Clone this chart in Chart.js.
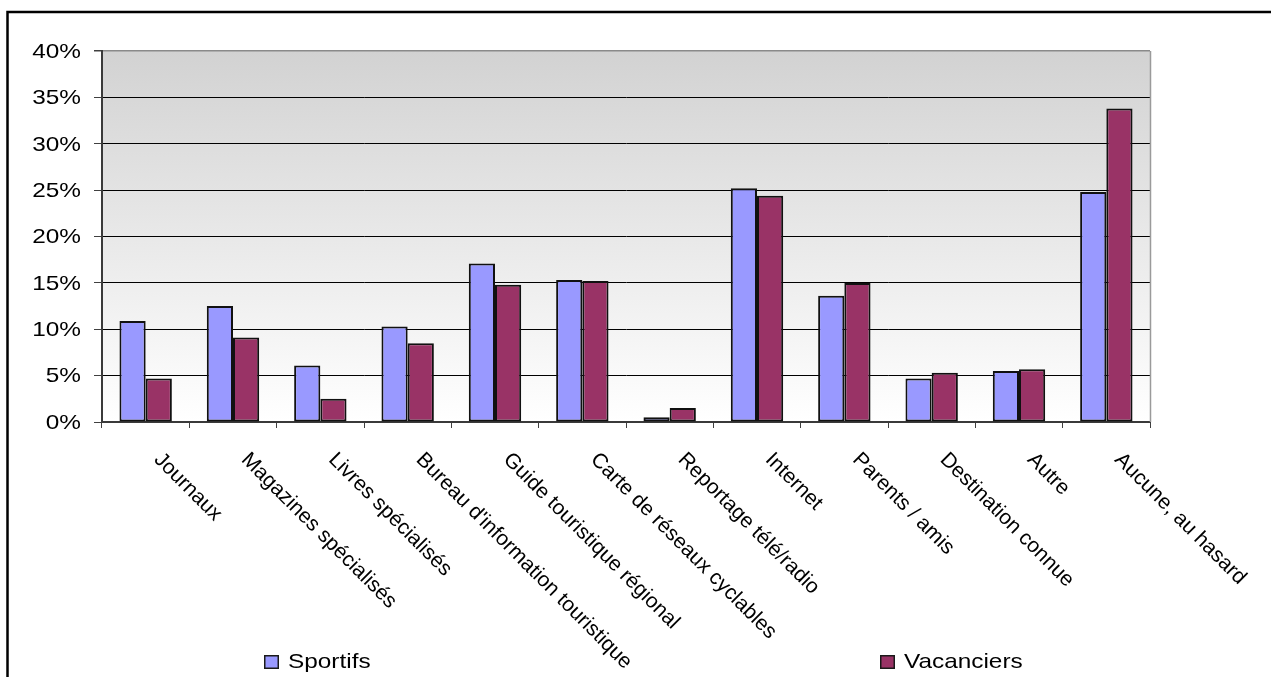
<!DOCTYPE html>
<html>
<head>
<meta charset="utf-8">
<script src="https://cdn.jsdelivr.net/npm/chart.js@4/dist/chart.umd.min.js"></script>
<style>
  html, body { margin: 0; padding: 0; background: #ffffff; }
  #wrap { width: 1271px; height: 677px; position: relative; }
  canvas { display: block; }
</style>
</head>
<body>
<div id="wrap"><canvas id="chart" width="1271" height="677"></canvas></div>
<script>
// Sources d'information utilisées (en % des répondants)
const categories = [
  "Journaux",
  "Magazines spécialisés",
  "Livres spécialisés",
  "Bureau d'information touristique",
  "Guide touristique régional",
  "Carte de réseaux cyclables",
  "Reportage télé/radio",
  "Internet",
  "Parents / amis",
  "Destination connue",
  "Autre",
  "Aucune, au hasard"
];
const seriesNames = ["Sportifs", "Vacanciers"];
const sportifs   = [10.9, 12.5, 6.1, 10.3, 17.1, 15.3, 0.5, 25.2, 13.6, 4.7, 5.5, 24.8];
const vacanciers = [4.7, 9.1, 2.5, 8.5, 14.8, 15.2, 1.5, 24.4, 15.0, 5.3, 5.7, 33.8];
const yTicks = [0, 5, 10, 15, 20, 25, 30, 35, 40];
const yTickLabels = yTicks.map(v => v + "%");

const FONT = "'Liberation Sans', Arial, sans-serif";
const COLORS = ["#9999ff", "#993366"];
const WIDE = 1.16; // horizontal glyph stretch of the upright texts

// Page frame and gradient plot background
const backdrop = {
  id: "backdrop",
  beforeDraw(chart) {
    const { ctx, chartArea: a, width, height } = chart;
    ctx.save();
    ctx.fillStyle = "#ffffff";
    ctx.fillRect(0, 0, width, height);
    ctx.strokeStyle = "#000000";
    ctx.lineWidth = 2.5;
    ctx.beginPath();
    ctx.moveTo(7.5, height + 2);
    ctx.lineTo(7.5, 12);
    ctx.lineTo(width + 2, 12);
    ctx.stroke();
    const g = ctx.createLinearGradient(0, a.top, 0, a.bottom);
    g.addColorStop(0, "#d2d2d2");
    g.addColorStop(1, "#ffffff");
    ctx.fillStyle = g;
    ctx.fillRect(a.left, a.top, a.right - a.left, a.bottom - a.top);
    ctx.restore();
  },
  afterDraw(chart) {
    const { ctx, chartArea: a } = chart;
    ctx.save();
    ctx.strokeStyle = "#9a9a9a";
    ctx.lineWidth = 1.5;
    ctx.beginPath();
    ctx.moveTo(a.right + 0.5, a.top);
    ctx.lineTo(a.right + 0.5, a.bottom);
    ctx.stroke();
    ctx.restore();
  }
};

// Percentage labels beside the value axis
const valueLabels = {
  id: "valueLabels",
  afterDraw(chart) {
    const { ctx } = chart;
    const ys = chart.scales.y;
    ctx.save();
    ctx.font = "21px " + FONT;
    ctx.fillStyle = "#000000";
    ctx.textAlign = "right";
    ctx.textBaseline = "middle";
    yTicks.forEach((v, i) => {
      ctx.save();
      ctx.translate(ys.left + ys.width - 21, ys.getPixelForValue(v) + 1);
      ctx.scale(WIDE, 1);
      ctx.fillText(yTickLabels[i], 0, 0);
      ctx.restore();
    });
    ctx.restore();
  }
};

// Category labels, slanted downward to the right from each category
const slantedLabels = {
  id: "slantedLabels",
  afterDraw(chart) {
    const { ctx } = chart;
    const xs = chart.scales.x;
    ctx.save();
    ctx.font = "21px " + FONT;
    ctx.fillStyle = "#000000";
    ctx.textAlign = "left";
    ctx.textBaseline = "top";
    chart.data.labels.forEach((lab, i) => {
      const cx = xs.getPixelForValue(i);
      ctx.save();
      ctx.translate(cx + 19, 449);
      ctx.rotate(Math.PI / 4);
      ctx.fillText(lab, 0, 0);
      ctx.restore();
    });
    ctx.restore();
  }
};

// Legend along the bottom edge
const bottomLegend = {
  id: "bottomLegend",
  afterDraw(chart) {
    const { ctx } = chart;
    const slots = [264, 880];
    ctx.save();
    ctx.font = "21px " + FONT;
    ctx.textAlign = "left";
    ctx.textBaseline = "middle";
    chart.data.datasets.forEach((ds, i) => {
      const x = slots[i];
      const y = 655;
      ctx.fillStyle = ds.backgroundColor;
      ctx.fillRect(x, y, 15, 14);
      ctx.strokeStyle = "#1a1a1a";
      ctx.lineWidth = 1.5;
      ctx.strokeRect(x + 0.75, y + 0.75, 13.5, 12.5);
      ctx.fillStyle = "#000000";
      ctx.save();
      ctx.translate(x + 24, y + 7);
      ctx.scale(WIDE, 1);
      ctx.fillText(ds.label, 0, 0);
      ctx.restore();
    });
    ctx.restore();
  }
};

new Chart(document.getElementById("chart"), {
  type: "bar",
  data: {
    labels: categories,
    datasets: [
      { label: seriesNames[0], data: sportifs, backgroundColor: COLORS[0] },
      { label: seriesNames[1], data: vacanciers, backgroundColor: COLORS[1] }
    ]
  },
  options: {
    responsive: false,
    animation: false,
    devicePixelRatio: 1,
    layout: { padding: { left: 0, top: 51, right: 121, bottom: 0 } },
    datasets: {
      bar: {
        categoryPercentage: 0.6,
        barPercentage: 1,
        borderColor: "#111111",
        borderWidth: 2,
        borderSkipped: false
      }
    },
    plugins: {
      legend: { display: false },
      tooltip: { enabled: false },
      title: { display: false }
    },
    scales: {
      x: {
        grid: {
          offset: true,
          drawOnChartArea: false,
          drawTicks: true,
          tickLength: 6,
          tickColor: "#404040",
          lineWidth: 1
        },
        border: { color: "#3a3a3a", width: 2 },
        ticks: { display: false },
        afterFit(s) { s.height = 255; }
      },
      y: {
        min: 0,
        max: 40,
        afterBuildTicks(s) { s.ticks = yTicks.map(v => ({ value: v })); },
        ticks: { display: false },
        grid: {
          color: c => (c.tick && c.tick.value === 40 ? "#8a8a8a" : "#000000"),
          lineWidth: c => (c.tick && c.tick.value === 40 ? 1.5 : 1),
          drawTicks: true,
          tickLength: 8,
          tickColor: "#404040"
        },
        border: { color: "#3a3a3a", width: 2 },
        afterFit(s) { s.width = 102; }
      }
    }
  },
  plugins: [backdrop, valueLabels, slantedLabels, bottomLegend]
});
</script>
</body>
</html>
